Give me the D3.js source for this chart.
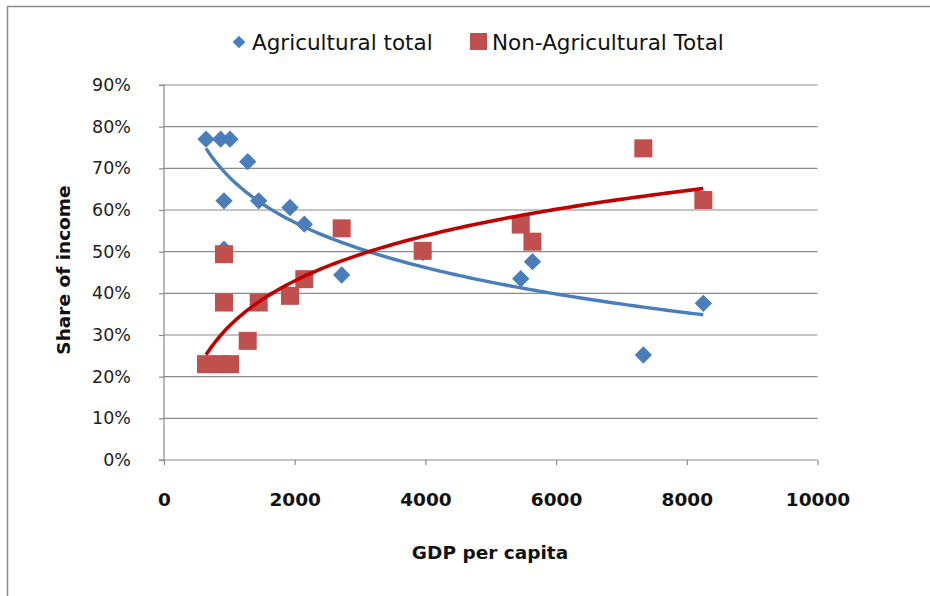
<!DOCTYPE html>
<html><head><meta charset="utf-8">
<script src="https://cdn.jsdelivr.net/npm/d3@7"></script>
<style>html,body{margin:0;padding:0;background:#fff;}</style>
</head><body>
<svg id="c" width="930" height="596"></svg>
<script>
const gdp      = [643, 867, 1010, 1281, 918, 918, 1449, 1928, 2147, 2719, 3958, 5459, 5638, 7335, 8253];
const agShare  = [77.0, 77.0, 77.0, 71.6, 62.2, 50.6, 62.2, 60.6, 56.6, 44.4, 49.8, 43.5, 47.6, 25.2, 37.6];
const nonAgShare = [23.0, 23.0, 23.0, 28.6, 37.8, 49.4, 37.8, 39.4, 43.4, 55.6, 50.2, 56.5, 52.4, 74.8, 62.4];
const xTicks = [0, 2000, 4000, 6000, 8000, 10000];
const yTicks = [0, 10, 20, 30, 40, 50, 60, 70, 80, 90];
const seriesNames = ["Agricultural total", "Non-Agricultural Total"];

const svg = d3.select("#c");
const font = "DejaVu Sans";
const x = d3.scaleLinear().domain([0, 10000]).range([164, 817.5]);
const y = d3.scaleLinear().domain([0, 90]).range([460, 85]);

// chart border
svg.append("path").attr("d", "M7.5,596 L7.5,6.5 L930,6.5").attr("fill", "none").attr("stroke", "#8c8c8c").attr("stroke-width", 1.5);

// gridlines
svg.append("g").selectAll("line").data(yTicks.filter(d => d > 0)).join("line")
  .attr("x1", x(0)).attr("x2", x(10000)).attr("y1", d => y(d)).attr("y2", d => y(d))
  .attr("stroke", "#8a8a8a").attr("stroke-width", 1.2);

// y axis
const ya = svg.append("g").attr("transform", `translate(${x(0)},0)`)
  .call(d3.axisLeft(y).tickValues(yTicks).tickFormat(d => d + "%").tickSize(5).tickPadding(28));
ya.select(".domain").attr("stroke", "#8a8a8a").attr("stroke-width", 1.2).attr("d", `M-5,${y(0)}H0V${y(90)}H-5`);
ya.selectAll(".tick line").attr("stroke", "#8a8a8a").attr("stroke-width", 1.2);
ya.selectAll(".tick text").attr("font-family", font).attr("font-size", 17.5).attr("fill", "#222");

// x axis
const xa = svg.append("g").attr("transform", `translate(0,${y(0)})`)
  .call(d3.axisBottom(x).tickValues(xTicks).tickFormat(d3.format("d")).tickSize(5).tickPadding(28));
xa.select(".domain").attr("stroke", "#8a8a8a").attr("stroke-width", 1.2).attr("d", `M${x(0)},0H${x(10000)}`);
xa.selectAll(".tick line").attr("stroke", "#8a8a8a").attr("stroke-width", 1.2);
xa.selectAll(".tick text").attr("font-family", font).attr("font-size", 18.5).attr("font-weight", "bold").attr("fill", "#111");

// axis titles
svg.append("text").attr("x", 490).attr("y", 559).attr("text-anchor", "middle")
  .attr("font-family", font).attr("font-size", 18.5).attr("font-weight", "bold").attr("fill", "#111").text("GDP per capita");
svg.append("text").attr("transform", "translate(70,270) rotate(-90)").attr("text-anchor", "middle")
  .attr("font-family", font).attr("font-size", 18.5).attr("font-weight", "bold").attr("fill", "#111").text("Share of income");

// log trendline fit
function logFit(xs, ys) {
  const L = xs.map(Math.log);
  const mL = d3.mean(L), mY = d3.mean(ys);
  let num = 0, den = 0;
  L.forEach((l, i) => { num += (l - mL) * (ys[i] - mY); den += (l - mL) * (l - mL); });
  const b = num / den, a = mY - b * mL;
  return v => a + b * Math.log(v);
}
const [xmin, xmax] = d3.extent(gdp);
const samples = d3.range(0, 101).map(i => xmin + (xmax - xmin) * i / 100);
const line = d3.line().x(d => x(d[0])).y(d => y(d[1]));

// markers
const blue = "#4a7ebb", red = "#c0504d";
const pts = gdp.map((g, i) => ({ g, ag: agShare[i], nag: nonAgShare[i] }));
svg.append("g").selectAll("path").data(pts).join("path")
  .attr("d", d3.symbol().type(d3.symbolSquare).size(150))
  .attr("transform", d => `translate(${x(d.g)},${y(d.ag)}) rotate(45)`)
  .attr("fill", blue);
svg.append("g").selectAll("rect").data(pts).join("rect")
  .attr("x", d => x(d.g) - 9).attr("y", d => y(d.nag) - 9).attr("width", 18).attr("height", 18)
  .attr("fill", red);

const fAg = logFit(gdp, agShare), fNag = logFit(gdp, nonAgShare);
svg.append("path").datum(samples.map(v => [v, fAg(v)])).attr("d", line)
  .attr("fill", "none").attr("stroke", "#4a7ebb").attr("stroke-width", 3.4);
svg.append("path").datum(samples.map(v => [v, fNag(v)])).attr("d", line)
  .attr("fill", "none").attr("stroke", "#c00000").attr("stroke-width", 3.6);

// legend
const lg = svg.append("g");
lg.append("path").attr("d", d3.symbol().type(d3.symbolSquare).size(80)).attr("transform", "translate(239,42) rotate(45)").attr("fill", blue);
lg.append("text").attr("x", 252).attr("y", 50).attr("font-family", font).attr("font-size", 21.5).attr("fill", "#111").text(seriesNames[0]);
lg.append("rect").attr("x", 470).attr("y", 33).attr("width", 17).attr("height", 17).attr("fill", red);
lg.append("text").attr("x", 492).attr("y", 50).attr("font-family", font).attr("font-size", 21.5).attr("fill", "#111").text(seriesNames[1]);
</script>
</body></html>
